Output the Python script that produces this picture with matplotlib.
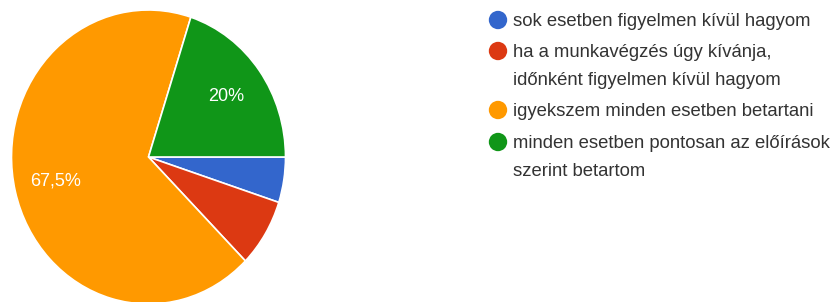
import matplotlib
matplotlib.use("Agg")
import matplotlib.pyplot as plt
import numpy as np

categories = [
    "sok esetben figyelmen kívül hagyom",
    "ha a munkavégzés úgy kívánja,\nidőnként figyelmen kívül hagyom",
    "igyekszem minden esetben betartani",
    "minden esetben pontosan az előírások\nszerint betartom",
]
values = [5.0, 7.5, 67.5, 20.0]
pct_labels = ["", "", "67,5%", "20%"]
colors = ["#3366cc", "#dc3912", "#ff9900", "#109618"]

plt.rcParams['font.family'] = ['Liberation Sans', 'DejaVu Sans']

W, H = 839, 302
fig = plt.figure(figsize=(W / 100, H / 100), dpi=100)
fig.patch.set_facecolor("white")

# pie axes (pixel geometry; source image slightly stretched vertically)
cx, cy, rx, ry = 148.5, 157, 137, 147
ax = fig.add_axes([(cx - rx) / W, (H - cy - ry) / H, 2 * rx / W, 2 * ry / H])
wedges, texts = ax.pie(values, colors=colors, startangle=0, counterclock=False,
                       radius=1, wedgeprops=dict(edgecolor="white", linewidth=1.2))
ax.set_aspect("auto")
ax.set_xlim(-1, 1)
ax.set_ylim(-1, 1)
ax.axis("off")

start = 0.0
total = sum(values)
for v, lab in zip(values, pct_labels):
    ang = start - v / total * 180.0
    start -= v / total * 360.0
    if lab:
        r = 0.70
        ax.text(r * np.cos(np.radians(ang)), r * np.sin(np.radians(ang)), lab,
                color="white", fontsize=13, ha="center", va="center")

# legend overlay in pixel coords
lax = fig.add_axes([0, 0, 1, 1])
lax.set_xlim(0, W)
lax.set_ylim(H, 0)
lax.axis("off")
ys = [20, 51, 110, 142]
for y, c, lab in zip(ys, colors, categories):
    lax.scatter([498], [y], s=175, color=c, edgecolors="none")
    for i, line in enumerate(lab.split("\n")):
        lax.text(513, y + 6 + 28 * i, line, fontsize=13.3, color="#333333",
                 va="baseline", ha="left")

fig.savefig("out.png", dpi=100, facecolor="white")
